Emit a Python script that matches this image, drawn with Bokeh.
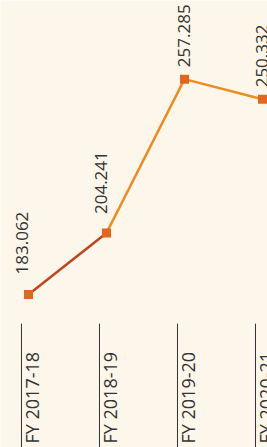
import math
from bokeh.plotting import figure
from bokeh.models import Range1d, ColumnDataSource
from bokeh.core.properties import value
from bokeh.embed import file_html
from bokeh.resources import INLINE

categories = ["FY 2017-18", "FY 2018-19", "FY 2019-20", "FY 2020-21"]
values = [183.062, 204.241, 257.285, 250.332]
value_labels = ["183.062", "204.241", "257.285", "250.332"]

# label placement styling (pixels)
label_dx = [-7, -6, -1, -1]
label_dy = [-20, -19, -12, -12]
seg_colors = ["#c0441c", "#ee8a1e", "#ef8c1e"]
idx = list(range(len(categories)))

W, H = 267, 447
p = figure(width=W, height=H, output_backend="svg", toolbar_location=None,
           x_range=Range1d(-0.359, 3.064), y_range=Range1d(130.3, 284.4),
           min_border=0, background_fill_color="#fdf6ea", border_fill_color="#fdf6ea")
p.axis.visible = False
p.xgrid.visible = False
p.ygrid.visible = False
p.outline_line_color = None

# separator lines left of each category label
sep_dx = -0.09
sep_top = 173.0
p.segment(x0=[i + sep_dx for i in idx], y0=[sep_top] * len(idx),
          x1=[i + sep_dx for i in idx], y1=[p.y_range.start] * len(idx),
          line_color="#333333", line_width=1)

# line segments
p.segment(x0=idx[:-1], y0=values[:-1], x1=idx[1:], y1=values[1:],
          line_color=seg_colors, line_width=2.5)

p.scatter(idx, values, marker="square", size=9, fill_color="#e2661c", line_color=None)

src = ColumnDataSource(dict(x=idx, y=values, t=value_labels, dx=label_dx, dy=label_dy))
p.text(x="x", y="y", text="t", source=src, angle=math.pi / 2,
       text_align="left", text_baseline="alphabetic",
       x_offset="dx", y_offset="dy",
       text_font=value("Open Sans"), text_font_size="17px", text_color="#333333")

csrc = ColumnDataSource(dict(x=idx, y=[p.y_range.start] * len(idx), t=categories))
p.text(x="x", y="y", text="t", source=csrc, angle=math.pi / 2,
       text_align="left", text_baseline="alphabetic",
       x_offset=3, y_offset=-4,
       text_font=value("Open Sans"), text_font_size="18px", text_color="#333333")

open("out.html", "w").write(file_html(p, INLINE))
